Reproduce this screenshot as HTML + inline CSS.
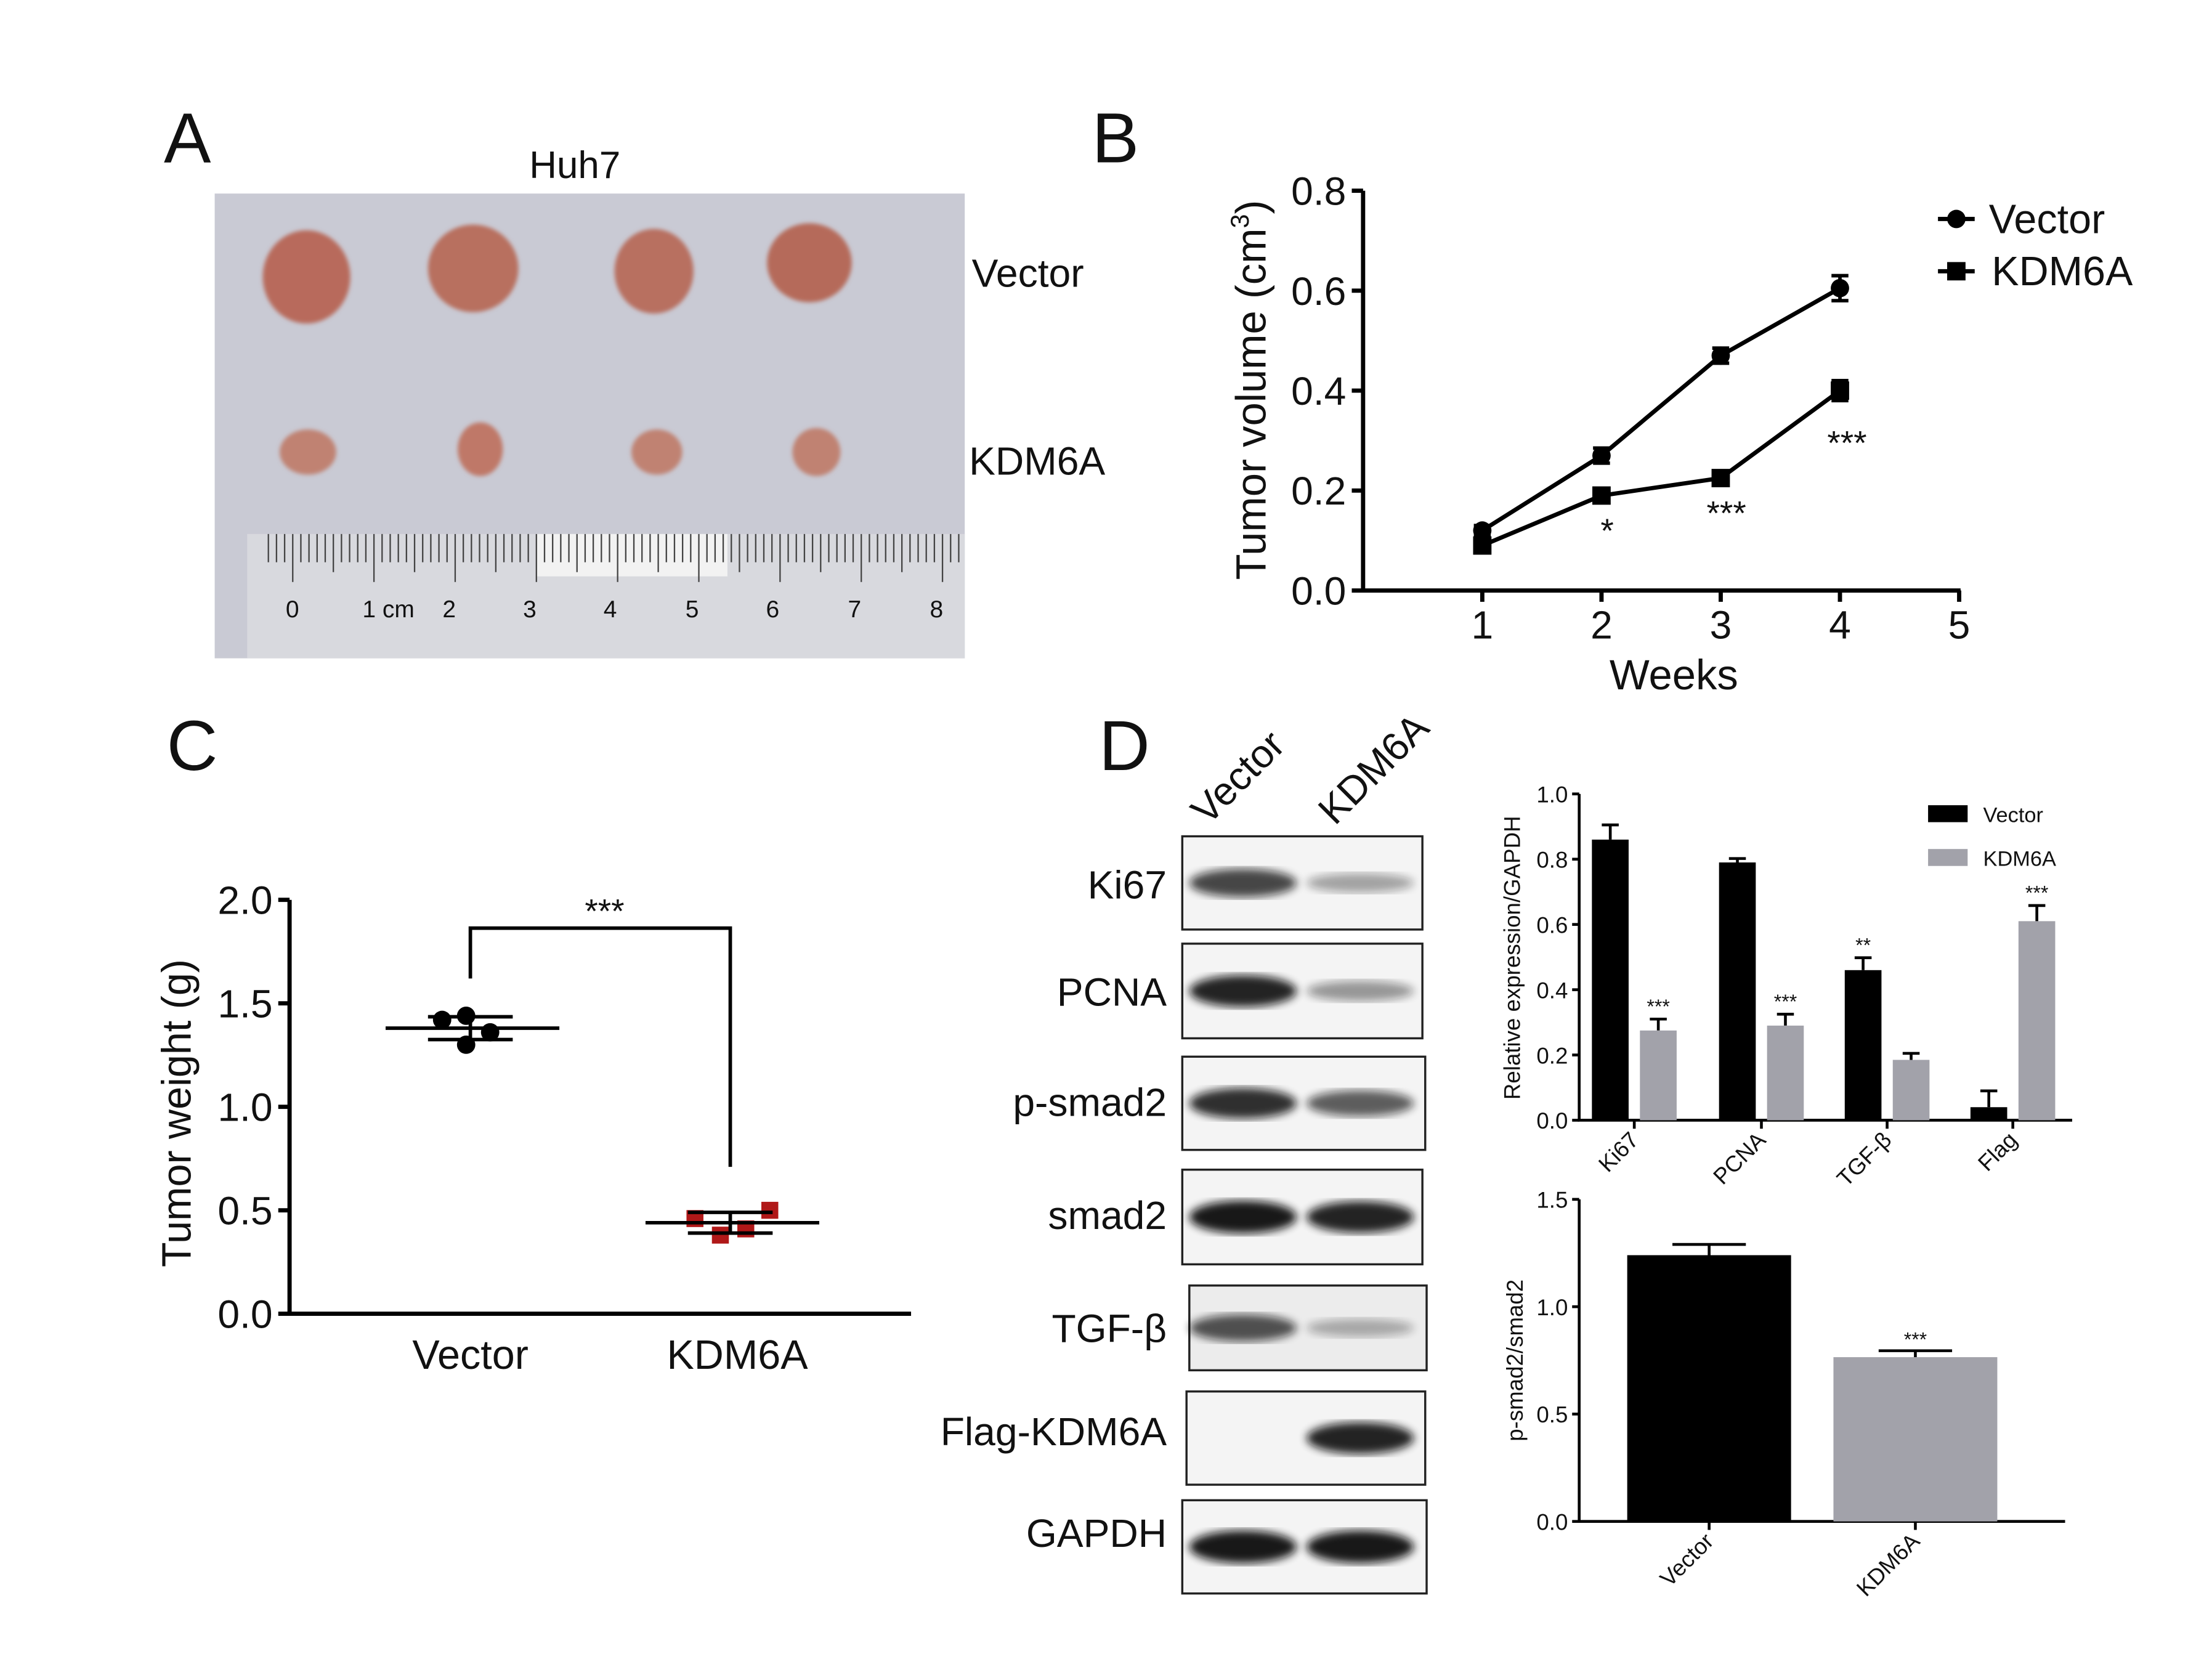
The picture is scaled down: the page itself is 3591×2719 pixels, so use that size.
<!DOCTYPE html>
<html><head><meta charset="utf-8"><style>
html,body{margin:0;padding:0;background:#fff}
svg{display:block}
text{font-family:"Liberation Sans",sans-serif;fill:#111}
</style></head><body>
<svg id="fig" width="3591" height="2719" viewBox="0 0 1566 1185.7" xmlns="http://www.w3.org/2000/svg">
<defs>
<filter id="blur2"><feGaussianBlur stdDeviation="3"/></filter>
<filter id="blur1"><feGaussianBlur stdDeviation="1.5"/></filter>
<clipPath id="photoClip"><rect x="152" y="137" width="531" height="329"/></clipPath>
</defs>
<rect width="1566" height="1186" fill="#fff"/>
<!-- Panel A -->
<g>
<text x="116" y="115" font-size="50">A</text>
<text x="407" y="126" font-size="27" text-anchor="middle">Huh7</text>
<rect x="152" y="137" width="531" height="329" fill="#c9cad4"/>
<g filter="url(#blur1)">
<ellipse cx="217" cy="196" rx="31" ry="33" fill="#b86a5c"/>
<ellipse cx="335" cy="190" rx="32" ry="31" fill="#b8705e"/>
<ellipse cx="463" cy="192" rx="28" ry="30" fill="#b87060"/>
<ellipse cx="573" cy="186" rx="30" ry="28" fill="#b56a5a"/>
</g>
<g filter="url(#blur1)">
<ellipse cx="218" cy="320" rx="20" ry="16" fill="#c08272"/>
<ellipse cx="340" cy="318" rx="16" ry="19" fill="#bf7868"/>
<ellipse cx="465" cy="320" rx="18" ry="16" fill="#c08272"/>
<ellipse cx="578" cy="320" rx="17" ry="17" fill="#c08272"/>
</g>
<rect x="175" y="378" width="508" height="88" fill="#d8d9de"/>
<rect x="380" y="378" width="135" height="30" fill="#f2f2f2"/>
<g id="rulerTicks" stroke="#444" stroke-width="1" clip-path="url(#photoClip)"></g>
<g font-size="17" fill="#333">
<text x="207" y="437" text-anchor="middle">0</text><text x="275" y="437" text-anchor="middle">1 cm</text><text x="318" y="437" text-anchor="middle">2</text><text x="375" y="437" text-anchor="middle">3</text><text x="432" y="437" text-anchor="middle">4</text><text x="490" y="437" text-anchor="middle">5</text><text x="547" y="437" text-anchor="middle">6</text><text x="605" y="437" text-anchor="middle">7</text><text x="663" y="437" text-anchor="middle">8</text>
</g>
<text x="688" y="203" font-size="28">Vector</text>
<text x="686" y="336" font-size="28">KDM6A</text>
</g>
<!-- Panel B -->
<g id="panelB">
<text x="773" y="115" font-size="50">B</text>
</g>
<!-- Panel C -->
<g id="panelC">
<text x="118" y="545" font-size="50">C</text>
</g>
<!-- Panel D blots -->
<g id="panelD">
<text x="778" y="545" font-size="50">D</text>
<text transform="translate(855,585) rotate(-45)" font-size="28">Vector</text>
<text transform="translate(945,585) rotate(-45)" font-size="28">KDM6A</text>
</g>
<g id="chartD1"></g>
<g id="chartD2"></g>
</svg>
<script>
// ---- Panel B data ----
const weeks = [1, 2, 3, 4];
const vectorVolume = [0.12, 0.27, 0.47, 0.605];
const vectorVolumeErr = [0.01, 0.015, 0.015, 0.025];
const kdmVolume = [0.09, 0.19, 0.225, 0.40];
const kdmVolumeErr = [0.01, 0.012, 0.012, 0.02];
const volumeTicks = ["0.0", "0.2", "0.4", "0.6", "0.8"];
const weekTicks = [1, 2, 3, 4, 5];
const volumeStars = ["", "*", "***", "***"];
// ---- Panel C data ----
const weightGroups = ["Vector", "KDM6A"];
const vectorWeights = [1.42, 1.44, 1.36, 1.30];
const kdmWeights = [0.46, 0.38, 0.41, 0.50];
const weightMeans = [1.38, 0.44];
const weightSD = [0.055, 0.05];
const weightTicks = ["0.0", "0.5", "1.0", "1.5", "2.0"];
// ---- Panel D blots ----
const blotNames = ["Ki67", "PCNA", "p-smad2", "smad2", "TGF-β", "Flag-KDM6A", "GAPDH"];
const blotVector = [0.75, 0.9, 0.85, 0.95, 0.7, 0.0, 0.95];
const blotKdm = [0.35, 0.4, 0.65, 0.9, 0.3, 0.9, 0.95];
// ---- Panel D bar chart 1 ----
const markers = ["Ki67", "PCNA", "TGF-β", "Flag"];
const exprVector = [0.86, 0.79, 0.46, 0.04];
const exprVectorErr = [0.045, 0.012, 0.038, 0.05];
const exprKdm = [0.275, 0.29, 0.185, 0.61];
const exprKdmErr = [0.035, 0.035, 0.02, 0.048];
const exprStarsVector = ["", "", "**", ""];
const exprStarsKdm = ["***", "***", "", "***"];
const exprTicks = ["0.0", "0.2", "0.4", "0.6", "0.8", "1.0"];
// ---- Panel D bar chart 2 ----
const ratioGroups = ["Vector", "KDM6A"];
const ratioValues = [1.24, 0.765];
const ratioErr = [0.05, 0.03];
const ratioStars = ["", "***"];
const ratioTicks = ["0.0", "0.5", "1.0", "1.5"];

const NS = "http://www.w3.org/2000/svg";
function mk(parent, tag, attrs, txt) {
  const e = document.createElementNS(NS, tag);
  for (const k in attrs) e.setAttribute(k, attrs[k]);
  if (txt !== undefined) e.textContent = txt;
  parent.appendChild(e);
  return e;
}

// ruler ticks
const rt = document.getElementById('rulerTicks');
for (let i = 0; i <= 85; i++) {
  const x = 207 + i * 5.75 - 17;
  const l = mk(rt, 'line', {x1: x, x2: x, y1: 378, y2: i % 10 === 3 ? 412 : (i % 5 === 3 ? 405 : 398)});
  
  
}

// ---- Panel B ----
(function () {
  const g = document.getElementById('panelB');
  const X = w => 965 + w * 84.4;
  const Y = v => 418 - v * 353.75;
  const ax = mk(g, 'path', {d: `M965 ${Y(0.8)} V418 H1388`, fill: 'none', stroke: '#000', 'stroke-width': 3});
  
  
  volumeTicks.forEach((t, i) => {
    const y = Y(+t);
    mk(g, 'line', {x1: 957, x2: 965, y1: y, y2: y, stroke: '#000', 'stroke-width': 3});
    const tx = mk(g, 'text', {x: 953, y: y + 10, 'font-size': 28, 'text-anchor': 'end'}, t);
    
    
  });
  weekTicks.forEach(w => {
    const x = X(w);
    mk(g, 'line', {x1: x, x2: x, y1: 418, y2: 426, stroke: '#000', 'stroke-width': 3});
    const tx = mk(g, 'text', {x: x, y: 452, 'font-size': 28, 'text-anchor': 'middle'}, w);
    
    
  });
  const xt = mk(g, 'text', {x: 1185, y: 488, 'font-size': 30, 'text-anchor': 'middle'}, 'Weeks');
  
  
  const yt = mk(g, 'text', {transform: 'translate(896,276) rotate(-90)', 'font-size': 30, 'text-anchor': 'middle'});
  
  
  yt.innerHTML = 'Tumor volume (cm<tspan dy="-12" font-size="18">3</tspan><tspan dy="12">)</tspan>';
  function series(vals, errs, sq, name) {
    const pts = vals.map((v, i) => X(weeks[i]) + ',' + Y(v)).join(' ');
    const pl = mk(g, 'polyline', {points: pts, fill: 'none', stroke: '#000', 'stroke-width': 3});
    
    
    vals.forEach((v, i) => {
      const x = X(weeks[i]), y = Y(v), e = errs[i] * 353.75;
      mk(g, 'path', {d: `M${x} ${y - e}V${y + e}M${x - 6} ${y - e}H${x + 6}M${x - 6} ${y + e}H${x + 6}`, stroke: '#000', 'stroke-width': 2.5, fill: 'none'});
      const m = sq ? mk(g, 'rect', {x: x - 6.5, y: y - 6.5, width: 13, height: 13, fill: '#000'}) : mk(g, 'circle', {cx: x, cy: y, r: 6.5, fill: '#000'});
      
      
    });
  }
  series(vectorVolume, vectorVolumeErr, false, 'vector');
  series(kdmVolume, kdmVolumeErr, true, 'kdm6a');
  volumeStars.forEach((s, i) => {
    if (!s) return;
    const t = mk(g, 'text', {x: X(weeks[i]) + (i === 3 ? 5 : 4), y: Y(kdmVolume[i]) + (i === 3 ? 45 : 33) , 'font-size': 24, 'text-anchor': 'middle'}, s);
    
    
  });
  // legend
  mk(g, 'line', {x1: 1372, x2: 1398, y1: 155, y2: 155, stroke: '#000', 'stroke-width': 3});
  mk(g, 'circle', {cx: 1385, cy: 155, r: 6.5});
  const l1 = mk(g, 'text', {x: 1408, y: 165, 'font-size': 29}, 'Vector');
  
  
  mk(g, 'line', {x1: 1372, x2: 1398, y1: 192, y2: 192, stroke: '#000', 'stroke-width': 3});
  mk(g, 'rect', {x: 1378.5, y: 185.5, width: 13, height: 13});
  const l2 = mk(g, 'text', {x: 1410, y: 202, 'font-size': 29}, 'KDM6A');
  
  
})();

// ---- Panel C ----
(function () {
  const g = document.getElementById('panelC');
  const Y = v => 930 - v * 146.5;
  const X = [333, 517];
  mk(g, 'path', {d: `M205 ${Y(2)} V930 H645`, fill: 'none', stroke: '#000', 'stroke-width': 3});
  weightTicks.forEach(t => {
    const y = Y(+t);
    mk(g, 'line', {x1: 197, x2: 205, y1: y, y2: y, stroke: '#000', 'stroke-width': 3});
    const tx = mk(g, 'text', {x: 193, y: y + 10, 'font-size': 28, 'text-anchor': 'end'}, t);
    
    
  });
  weightGroups.forEach((n, i) => {
    const tx = mk(g, 'text', {x: X[i] + (i ? 5 : 0), y: 969, 'font-size': 29, 'text-anchor': 'middle'}, n);
    
    
  });
  const yt = mk(g, 'text', {transform: 'translate(135,788) rotate(-90)', 'font-size': 29, 'text-anchor': 'middle'}, 'Tumor weight (g)');
  
  
  const offs = [-20, -3, 14, -3];
  const offs2 = [-25, -7, 11, 28];
  vectorWeights.forEach((v, i) => {
    const c = mk(g, 'circle', {cx: X[0] + offs[i], cy: Y(v), r: 6.5, fill: '#000'});
    
    
  });
  kdmWeights.forEach((v, i) => {
    const c = mk(g, 'rect', {x: X[1] + offs2[i] - 6, y: Y(v) - 6, width: 12, height: 12, fill: '#b01818'});
    
    
  });
  weightMeans.forEach((m, i) => {
    const x = X[i], y = Y(m), e = weightSD[i] * 146.5;
    const p = mk(g, 'path', {d: `M${x - 60} ${y}H${x + 63}M${x - 30} ${y - e}H${x + 30}M${x - 30} ${y + e}H${x + 30}M${x} ${y - e}V${y + e}`, stroke: '#000', 'stroke-width': 2.5, fill: 'none'});
    
    
  });
  const br = mk(g, 'path', {d: `M${X[0]} ${Y(1.62)}V657H${X[1]}V826`, stroke: '#000', 'stroke-width': 2.5, fill: 'none'});
  
  
  const st = mk(g, 'text', {x: 428, y: 653, 'font-size': 24, 'text-anchor': 'middle'}, '***');
  
  
})();

// ---- Panel D blots ----
(function () {
  const g = document.getElementById('panelD');
  const boxes = [[837,592,170,66],[837,668,170,67],[837,748,172,66],[837,828,170,67],[842,910,168,60],[840,985,169,66],[837,1062,173,66]];
  const labelY = [636, 712, 790, 870, 950, 1023, 1095];
  blotNames.forEach((n, i) => {
    const [x, y, w, h] = boxes[i];
    const r = mk(g, 'rect', {x, y, width: w, height: h, fill: i === 4 ? '#ececec' : '#f4f4f4', stroke: '#222', 'stroke-width': 1.5});
    
    
    const cy = y + h / 2;
    [[880, blotVector[i]], [963, blotKdm[i]]].forEach(([cx, a]) => {
      if (a <= 0) return;
      const b = mk(g, 'ellipse', {cx, cy, rx: 38, ry: 4 + a * 8, fill: '#111', opacity: a, filter: 'url(#blur2)'});
      
      
    });
    const t = mk(g, 'text', {x: 826, y: labelY[i], 'font-size': 28, 'text-anchor': 'end'}, n);
    
    
  });
})();

// ---- Panel D bar chart 1 ----
(function () {
  const g = document.getElementById('chartD1');
  const Y = v => 793 - v * 231;
  const groupX = [1157, 1247, 1336, 1425];
  mk(g, 'path', {d: `M1118 ${Y(1)}V793H1467`, fill: 'none', stroke: '#000', 'stroke-width': 2});
  exprTicks.forEach(t => {
    const y = Y(+t);
    mk(g, 'line', {x1: 1113, x2: 1118, y1: y, y2: y, stroke: '#000', 'stroke-width': 2});
    const tx = mk(g, 'text', {x: 1110, y: y + 6, 'font-size': 16, 'text-anchor': 'end'}, t);
    
    
  });
  const yt = mk(g, 'text', {transform: 'translate(1076,678) rotate(-90)', 'font-size': 16, 'text-anchor': 'middle'}, 'Relative expression/GAPDH');
  
  
  function bar(x, v, e, col, star, name) {
    const y = Y(v), ey = e * 231;
    mk(g, 'path', {d: `M${x + 13} ${y}V${y - ey}M${x + 7} ${y - ey}H${x + 19}`, stroke: '#000', 'stroke-width': 2, fill: 'none'});
    const r = mk(g, 'rect', {x, y, width: 26, height: 793 - y, fill: col});
    
    
    if (star) {
      const s = mk(g, 'text', {x: x + 13, y: y - ey - 4, 'font-size': 14, 'text-anchor': 'middle'}, star);
      
      
    }
  }
  markers.forEach((m, i) => {
    const cx = groupX[i];
    bar(cx - 30, exprVector[i], exprVectorErr[i], '#000', exprStarsVector[i], 'bar-vector-' + i);
    bar(cx + 4, exprKdm[i], exprKdmErr[i], '#a2a2aa', exprStarsKdm[i], 'bar-kdm6a-' + i);
    mk(g, 'line', {x1: cx, x2: cx, y1: 793, y2: 799, stroke: '#000', 'stroke-width': 2});
    const t = mk(g, 'text', {transform: `translate(${cx + 4},808) rotate(-45)`, 'font-size': 16, 'text-anchor': 'end'}, m);
    
    
  });
  mk(g, 'rect', {x: 1365, y: 570, width: 28, height: 12, fill: '#000'});
  const a = mk(g, 'text', {x: 1404, y: 582, 'font-size': 15}, 'Vector');
  
  
  mk(g, 'rect', {x: 1365, y: 601, width: 28, height: 12, fill: '#a2a2aa'});
  const b = mk(g, 'text', {x: 1404, y: 613, 'font-size': 15}, 'KDM6A');
  
  
})();

// ---- Panel D bar chart 2 ----
(function () {
  const g = document.getElementById('chartD2');
  const Y = v => 1077 - v * 152;
  const groupX = [1210, 1356];
  const cols = ['#000', '#a2a2aa'];
  mk(g, 'path', {d: `M1118 ${Y(1.5)}V1077H1462`, fill: 'none', stroke: '#000', 'stroke-width': 2});
  ratioTicks.forEach(t => {
    const y = Y(+t);
    mk(g, 'line', {x1: 1113, x2: 1118, y1: y, y2: y, stroke: '#000', 'stroke-width': 2});
    const tx = mk(g, 'text', {x: 1110, y: y + 6, 'font-size': 16, 'text-anchor': 'end'}, t);
    
    
  });
  const yt = mk(g, 'text', {transform: 'translate(1078,963) rotate(-90)', 'font-size': 16, 'text-anchor': 'middle'}, 'p-smad2/smad2');
  
  
  ratioGroups.forEach((n, i) => {
    const cx = groupX[i], y = Y(ratioValues[i]), ey = ratioErr[i] * 152;
    mk(g, 'path', {d: `M${cx} ${y}V${y - ey}M${cx - 26} ${y - ey}H${cx + 26}`, stroke: '#000', 'stroke-width': 2, fill: 'none'});
    const r = mk(g, 'rect', {x: cx - 58, y, width: 116, height: 1077 - y, fill: cols[i]});
    
    
    if (ratioStars[i]) {
      const s = mk(g, 'text', {x: cx, y: y - ey - 3, 'font-size': 14, 'text-anchor': 'middle'}, ratioStars[i]);
      
      
    }
    mk(g, 'line', {x1: cx, x2: cx, y1: 1077, y2: 1083, stroke: '#000', 'stroke-width': 2});
    const t = mk(g, 'text', {transform: `translate(${cx + 4},1092) rotate(-45)`, 'font-size': 16, 'text-anchor': 'end'}, n);
    
    
  });
})();
</script>
</body></html>
